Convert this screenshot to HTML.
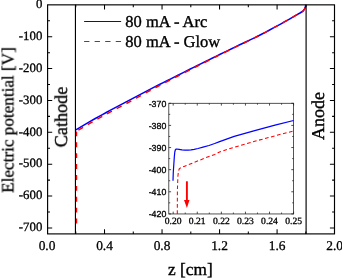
<!DOCTYPE html><html><head><meta charset="utf-8"><title>chart</title><style>
html,body{margin:0;padding:0;background:#fff;}
#c{position:relative;width:342px;height:278px;overflow:hidden;background:#fff;font-family:"Liberation Serif",serif;color:#000;}
.t{position:absolute;white-space:nowrap;line-height:1;text-rendering:geometricPrecision;-webkit-text-stroke:0.2px #000;filter:blur(0.3px);}
.yl{font-size:12.8px;-webkit-text-stroke-width:0.3px;text-align:right;width:40px;left:2.3px;}
.xl{font-size:13.4px;-webkit-text-stroke-width:0.3px;text-align:center;width:40px;}
.iy{font-family:"Liberation Sans",sans-serif;font-size:8.8px;text-align:right;width:30px;left:136.3px;-webkit-text-stroke-width:0.3px;}
.ixl{font-size:9.6px;-webkit-text-stroke-width:0.3px;text-align:center;width:30px;}
.rot{transform:translate(-50%,-50%) rotate(-90deg);}
</style></head><body><div id="c">
<svg width="342" height="278" viewBox="0 0 342 278" style="position:absolute;left:0;top:0">
<rect width="342" height="278" fill="#fff"/>
<rect x="47.60" y="4.85" width="286.90" height="229.05" fill="none" stroke="#000" stroke-width="1.15"/>
<path d="M75.76,233.90 v-2.40 M75.76,4.85 v2.40 M104.52,233.90 v-4.60 M104.52,4.85 v4.60 M133.28,233.90 v-2.40 M133.28,4.85 v2.40 M162.04,233.90 v-4.60 M162.04,4.85 v4.60 M190.80,233.90 v-2.40 M190.80,4.85 v2.40 M219.56,233.90 v-4.60 M219.56,4.85 v4.60 M248.32,233.90 v-2.40 M248.32,4.85 v2.40 M277.08,233.90 v-4.60 M277.08,4.85 v4.60 M305.84,233.90 v-2.40 M305.84,4.85 v2.40 M47.60,20.78 h2.40 M334.50,20.78 h-2.40 M47.60,36.72 h4.60 M334.50,36.72 h-4.60 M47.60,52.66 h2.40 M334.50,52.66 h-2.40 M47.60,68.59 h4.60 M334.50,68.59 h-4.60 M47.60,84.52 h2.40 M334.50,84.52 h-2.40 M47.60,100.46 h4.60 M334.50,100.46 h-4.60 M47.60,116.39 h2.40 M334.50,116.39 h-2.40 M47.60,132.33 h4.60 M334.50,132.33 h-4.60 M47.60,148.26 h2.40 M334.50,148.26 h-2.40 M47.60,164.20 h4.60 M334.50,164.20 h-4.60 M47.60,180.13 h2.40 M334.50,180.13 h-2.40 M47.60,196.07 h4.60 M334.50,196.07 h-4.60 M47.60,212.00 h2.40 M334.50,212.00 h-2.40 M47.60,227.94 h4.60 M334.50,227.94 h-4.60" stroke="#000" stroke-width="1.05" fill="none"/>
<path d="M75.85,129.80 L79.65,127.56 L83.45,125.32 L87.25,123.10 L91.05,120.91 L94.85,118.76 L98.64,116.67 L102.44,114.58 L106.24,112.49 L110.04,110.44 L113.84,108.44 L117.64,106.44 L121.44,104.44 L125.24,102.44 L129.04,100.44 L132.84,98.44 L136.64,96.44 L140.44,94.43 L144.23,92.43 L148.03,90.42 L151.83,88.42 L155.63,86.43 L159.43,84.52 L163.23,82.61 L167.03,80.71 L170.83,78.80 L174.63,76.89 L178.43,74.99 L182.23,73.09 L186.03,71.19 L189.82,69.29 L193.62,67.39 L197.42,65.49 L201.22,63.60 L205.02,61.74 L208.82,59.88 L212.62,58.02 L216.42,56.15 L220.22,54.29 L224.02,52.44 L227.82,50.59 L231.62,48.74 L235.41,46.89 L239.21,45.03 L243.01,43.23 L246.81,41.45 L250.61,39.66 L254.41,37.88 L258.21,35.96 L262.01,34.03 L265.81,32.06 L269.61,30.01 L273.41,27.96 L277.21,25.89 L281.00,23.80 L284.80,21.71 L288.60,19.55 L292.40,17.38 L296.20,15.20 L300.00,13.00 L303.10,11.00 L304.60,8.80 L305.30,6.80 L305.80,4.90" stroke="#0000ff" stroke-width="1.5" fill="none" stroke-linejoin="round"/>
<path d="M76.40,132.10 L76.90,131.10 L79.65,129.35 L83.45,127.10 L87.25,124.88 L91.05,122.68 L94.85,120.52 L98.64,118.42 L102.44,116.33 L106.24,114.23 L110.04,112.17 L113.84,110.16 L117.64,108.16 L121.44,106.15 L125.24,104.14 L129.04,102.06 L132.84,99.98 L136.64,97.90 L140.44,95.82 L144.23,93.74 L148.03,91.66 L151.83,89.58 L155.63,87.52 L159.43,85.53 L163.23,83.55 L167.03,81.56 L170.83,79.59 L174.63,77.65 L178.43,75.71 L182.23,73.78 L186.03,71.84 L189.82,69.91 L193.62,67.98 L197.42,66.04 L201.22,64.12 L205.02,62.22 L208.82,60.33 L212.62,58.43 L216.42,56.54 L220.22,54.64 L224.02,52.76 L227.82,50.87 L231.62,48.99 L235.41,47.10 L239.21,45.22 L243.01,43.38 L246.81,41.56 L250.61,39.74 L254.41,37.93 L258.21,35.98 L262.01,34.03 L265.81,32.06 L269.61,30.01 L273.41,27.96 L277.21,25.89 L281.00,23.80 L284.80,21.71 L288.60,19.55 L292.40,17.38 L296.20,15.20 L300.00,13.00 L303.10,11.00 L304.60,8.80 L305.30,6.80 L305.80,4.90" stroke="#ff0000" stroke-width="1.5" fill="none" stroke-dasharray="5.6,5.4" stroke-dashoffset="-2.8" stroke-linejoin="round"/>
<path d="M76.4,223.5 L76.4,131.0" stroke="#ff0000" stroke-width="1.6" fill="none" stroke-dasharray="4.9,6"/>
<line x1="75.45" y1="4.85" x2="75.45" y2="233.90" stroke="#000" stroke-width="1.15"/>
<line x1="306.10" y1="4.85" x2="306.10" y2="233.90" stroke="#000" stroke-width="1.15"/>
<line x1="84.1" y1="21.5" x2="121.1" y2="21.5" stroke="#0000ff" stroke-width="1.2"/>
<line x1="84.1" y1="41.5" x2="121.1" y2="41.5" stroke="#ff0000" stroke-width="1.2" stroke-dasharray="5.3,5.25"/>
<rect x="168.80" y="103.30" width="124.80" height="110.65" fill="#fff" stroke="#2a2a2a" stroke-width="0.8"/>
<path d="M173.20,213.95 v-2.30 M173.20,103.30 v2.30 M185.24,213.95 v-1.40 M185.24,103.30 v1.40 M197.28,213.95 v-2.30 M197.28,103.30 v2.30 M209.32,213.95 v-1.40 M209.32,103.30 v1.40 M221.36,213.95 v-2.30 M221.36,103.30 v2.30 M233.40,213.95 v-1.40 M233.40,103.30 v1.40 M245.44,213.95 v-2.30 M245.44,103.30 v2.30 M257.48,213.95 v-1.40 M257.48,103.30 v1.40 M269.52,213.95 v-2.30 M269.52,103.30 v2.30 M281.56,213.95 v-1.40 M281.56,103.30 v1.40 M293.60,213.95 v-2.30 M293.60,103.30 v2.30 M168.80,103.30 h2.30 M293.60,103.30 h-2.30 M168.80,114.36 h1.40 M293.60,114.36 h-1.40 M168.80,125.42 h2.30 M293.60,125.42 h-2.30 M168.80,136.48 h1.40 M293.60,136.48 h-1.40 M168.80,147.54 h2.30 M293.60,147.54 h-2.30 M168.80,158.60 h1.40 M293.60,158.60 h-1.40 M168.80,169.66 h2.30 M293.60,169.66 h-2.30 M168.80,180.72 h1.40 M293.60,180.72 h-1.40 M168.80,191.78 h2.30 M293.60,191.78 h-2.30 M168.80,202.84 h1.40 M293.60,202.84 h-1.40 M168.80,213.90 h2.30 M293.60,213.90 h-2.30" stroke="#222" stroke-width="0.8" fill="none"/>
<path d="M173.00,180.70 L173.30,172.00 L173.80,164.60 L174.30,157.00 L174.80,152.00 L175.30,150.00 L176.00,149.20 L176.80,149.00 L179.00,149.30 L182.00,149.90 L185.00,150.20 L188.00,150.10 L191.00,149.80 L194.20,149.30 L198.00,148.50 L203.00,147.20 L209.00,145.50 L214.70,143.50 L219.60,141.60 L234.20,136.40 L254.70,130.60 L275.00,125.20 L293.60,120.50" stroke="#0000ff" stroke-width="1.2" fill="none" stroke-linejoin="round"/>
<path d="M177.30,213.90 L177.40,190.00 L177.90,176.30 L178.40,171.50 L179.20,169.00 L180.50,167.80 L184.00,166.40 L194.20,162.40 L204.50,158.20 L214.70,154.50 L219.60,152.00 L234.20,147.20 L254.70,141.30 L275.00,135.80 L293.60,131.00" stroke="#ff0000" stroke-width="1.05" fill="none" stroke-dasharray="3.7,2.5" stroke-linejoin="round"/>
<path d="M186.9,181.3 V201" stroke="#ff0000" stroke-width="1.9" fill="none"/>
<path d="M184.0,200 L189.5,200 L186.9,208 Z" fill="#ff0000"/>
</svg>
<div class="t yl" style="top:-1.90px">0</div>
<div class="t yl" style="top:29.97px">-100</div>
<div class="t yl" style="top:61.84px">-200</div>
<div class="t yl" style="top:93.71px">-300</div>
<div class="t yl" style="top:125.58px">-400</div>
<div class="t yl" style="top:157.45px">-500</div>
<div class="t yl" style="top:189.32px">-600</div>
<div class="t yl" style="top:221.19px">-700</div>
<div class="t xl" style="left:27.00px;top:238.6px">0.0</div>
<div class="t xl" style="left:84.52px;top:238.6px">0.4</div>
<div class="t xl" style="left:142.04px;top:238.6px">0.8</div>
<div class="t xl" style="left:199.56px;top:238.6px">1.2</div>
<div class="t xl" style="left:257.08px;top:238.6px">1.6</div>
<div class="t xl" style="left:314.60px;top:238.6px">2.0</div>
<div class="t iy" style="top:99.60px">-370</div>
<div class="t iy" style="top:121.72px">-380</div>
<div class="t iy" style="top:143.84px">-390</div>
<div class="t iy" style="top:165.96px">-400</div>
<div class="t iy" style="top:188.08px">-410</div>
<div class="t iy" style="top:210.20px">-420</div>
<div class="t ixl" style="left:158.20px;top:216.5px">0.20</div>
<div class="t ixl" style="left:182.28px;top:216.5px">0.21</div>
<div class="t ixl" style="left:206.36px;top:216.5px">0.22</div>
<div class="t ixl" style="left:230.44px;top:216.5px">0.23</div>
<div class="t ixl" style="left:254.52px;top:216.5px">0.24</div>
<div class="t ixl" style="left:278.60px;top:216.5px">0.25</div>
<div class="t" style="left:125.3px;top:14.3px;font-size:16.5px;-webkit-text-stroke-width:0.35px">80 mA - Arc</div>
<div class="t" style="left:125.3px;top:34.1px;font-size:16.5px;-webkit-text-stroke-width:0.35px">80 mA - Glow</div>
<div class="t rot" style="left:7.9px;top:120.1px;font-size:17.15px;-webkit-text-stroke-width:0.3px">Electric potential [V]</div>
<div class="t rot" style="left:61.2px;top:116.7px;font-size:18.15px;-webkit-text-stroke-width:0.35px">Cathode</div>
<div class="t rot" style="left:317.9px;top:115.5px;font-size:18px;-webkit-text-stroke-width:0.35px">Anode</div>
<div class="t" style="left:168.1px;top:260.9px;font-size:17.3px;-webkit-text-stroke-width:0.4px">z [cm]</div>
</div></body></html>
